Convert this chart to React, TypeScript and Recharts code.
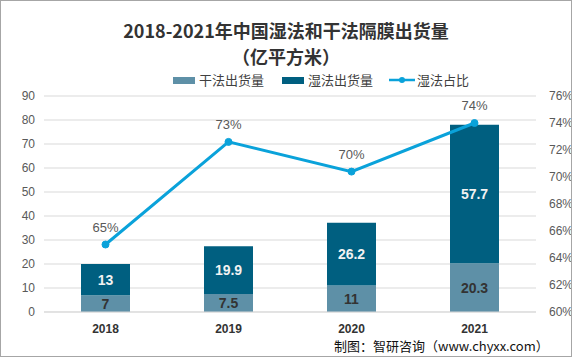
import React from "react";
import { ComposedChart, Bar, Line, XAxis, YAxis, CartesianGrid, LabelList } from "recharts";

const years = ["2018", "2019", "2020", "2021"];
const dryValues = [7, 7.5, 11, 20.3];
const wetValues = [13, 19.9, 26.2, 57.7];
const wetShare = [65.0, 72.6, 70.4, 74.0];
const wetShareLabels = ["65%", "73%", "70%", "74%"];
const leftTicks = [0, 10, 20, 30, 40, 50, 60, 70, 80, 90];
const rightTicks = [60, 62, 64, 66, 68, 70, 72, 74, 76];

const data = years.map((y, i) => ({
  year: y,
  dry: dryValues[i],
  wet: wetValues[i],
  share: wetShare[i],
  shareLabel: wetShareLabels[i],
}));

const DRY = "#5e90a7";
const WET = "#005f80";
const LINE = "#0aa2da";
const FONT = "'Liberation Sans', 'Noto Sans CJK SC', sans-serif";
const CJK = "'Noto Sans CJK SC', 'Liberation Sans', sans-serif";

const ShareLabel = (props: any) => {
  const { x, y, index } = props;
  return (
    <text x={x} y={y - 13} textAnchor="middle" fill="#595959" fontSize={13} fontFamily={FONT}>
      {wetShareLabels[index]}
    </text>
  );
};

export default function App() {
  return (
    <div
      style={{
        position: "absolute",
        left: 0,
        top: 0,
        width: 572,
        height: 357,
        boxSizing: "border-box",
        border: "1px solid #a6a6a6",
        background: "#fff",
        overflow: "hidden",
      }}
    >
      <div
        style={{
          position: "absolute",
          left: 0,
          width: 570,
          top: 16,
          textAlign: "center",
          fontFamily: CJK,
          fontWeight: 700,
          fontSize: 18,
          lineHeight: "26px",
          color: "#333",
        }}
      >
        2018-2021年中国湿法和干法隔膜出货量
        <br />
        （亿平方米）
      </div>
      <div
        style={{
          position: "absolute",
          top: 70,
          left: 172,
          display: "flex",
          alignItems: "center",
          fontFamily: CJK,
          fontSize: 13,
          color: "#404040",
          lineHeight: "18px",
        }}
      >
        <span style={{ display: "inline-block", width: 22, height: 7, background: DRY, marginRight: 4 }} />
        <span style={{ marginRight: 18 }}>干法出货量</span>
        <span style={{ display: "inline-block", width: 22, height: 7, background: WET, marginRight: 4 }} />
        <span style={{ marginRight: 16 }}>湿法出货量</span>
        <svg width={26} height={10} style={{ marginRight: 2 }}>
          <line x1={0} y1={5} x2={26} y2={5} stroke={LINE} strokeWidth={2.5} />
          <circle cx={13} cy={5} r={3} fill={LINE} />
        </svg>
        <span>湿法占比</span>
      </div>
      <div style={{ position: "absolute", left: -1, top: -1 }}>
        <ComposedChart
          width={572}
          height={357}
          data={data}
          margin={{ top: 96, right: 0, bottom: 20, left: 0 }}
          barCategoryGap={0}
        >
          <CartesianGrid vertical={false} stroke="#d9d9d9" yAxisId="left" />
          <XAxis
            dataKey="year"
            axisLine={{ stroke: "#d9d9d9" }}
            tickLine={false}
            height={25}
            tick={{ fill: "#333", fontSize: 12, fontWeight: 700, fontFamily: FONT }}
            tickMargin={6}
          />
          <YAxis
            yAxisId="left"
            domain={[0, 90]}
            ticks={leftTicks}
            width={44}
            axisLine={false}
            tickLine={false}
            tick={{ fill: "#595959", fontSize: 12, fontFamily: FONT }}
            tickMargin={3}
            interval={0}
          />
          <YAxis
            yAxisId="right"
            orientation="right"
            domain={[60, 76]}
            ticks={rightTicks}
            width={36}
            axisLine={false}
            tickLine={false}
            tickFormatter={(v: number) => `${v}%`}
            tick={{ fill: "#595959", fontSize: 12, fontFamily: FONT }}
            tickMargin={7}
            interval={0}
          />
          <Bar dataKey="dry" stackId="a" yAxisId="left" fill={DRY} barSize={49} isAnimationActive={false}>
            <LabelList
              dataKey="dry"
              position="center"
              fill="#333"
              fontSize={14}
              fontWeight={700}
              fontFamily={FONT}
            />
          </Bar>
          <Bar dataKey="wet" stackId="a" yAxisId="left" fill={WET} barSize={49} isAnimationActive={false}>
            <LabelList
              dataKey="wet"
              position="center"
              fill="#f2f2f2"
              fontSize={14}
              fontWeight={700}
              fontFamily={FONT}
            />
          </Bar>
          <Line
            dataKey="share"
            yAxisId="right"
            type="linear"
            stroke={LINE}
            strokeWidth={3}
            dot={{ r: 3.5, fill: LINE, stroke: LINE, strokeWidth: 1 }}
            isAnimationActive={false}
          >
            <LabelList dataKey="share" content={<ShareLabel />} />
          </Line>
        </ComposedChart>
      </div>
      <div
        style={{
          position: "absolute",
          left: 333,
          top: 336,
          fontFamily: CJK,
          fontSize: 13,
          color: "#111",
          lineHeight: "18px",
          whiteSpace: "nowrap",
        }}
      >
        制图：智研咨询（www.chyxx.com）
      </div>
    </div>
  );
}
